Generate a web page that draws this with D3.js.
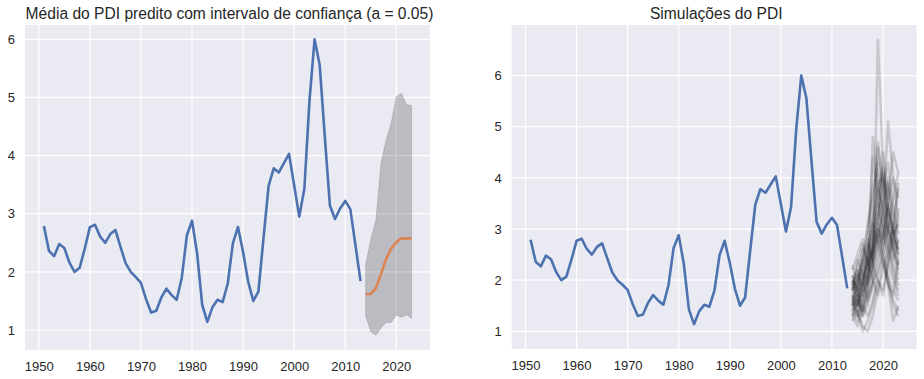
<!DOCTYPE html>
<html><head><meta charset="utf-8">
<script src="https://cdn.jsdelivr.net/npm/d3@7"></script>
<style>
body{margin:0;background:#fff;}
text{font-family:"Liberation Sans",Arial,sans-serif;fill:#262626;}
</style></head>
<body><svg id="c" width="924" height="379"></svg>
<script>
const startYear = 1951;
const pdi = [2.79,2.36,2.27,2.48,2.41,2.16,2.00,2.07,2.40,2.77,2.81,2.61,2.50,2.65,2.72,2.43,2.15,2.00,1.91,1.81,
  1.53,1.30,1.33,1.56,1.71,1.60,1.52,1.90,2.63,2.88,2.32,1.43,1.14,1.39,1.52,1.48,1.80,2.49,2.77,2.34,
  1.83,1.50,1.66,2.58,3.48,3.78,3.71,3.87,4.03,3.49,2.95,3.43,4.94,6.00,5.56,4.33,3.14,2.91,3.09,3.22,
  3.08,2.46,1.84];
const forecastYears = [2014,2015,2016,2017,2018,2019,2020,2021,2022,2023];
const forecastMean = [1.62,1.62,1.72,1.96,2.22,2.40,2.51,2.58,2.57,2.58];
const forecastUpper = [2.12,2.56,2.89,3.87,4.27,4.56,5.01,5.07,4.88,4.86];
const forecastLower = [1.24,0.97,0.91,1.03,1.13,1.13,1.26,1.22,1.26,1.20];
const simulations = [
 [1.6,1.4,1.9,2.3,2.6,3.1,2.8,3.4,2.9,2.4],
 [1.9,2.2,1.8,2.5,3.3,4.6,3.9,3.2,2.6,2.2],
 [1.4,1.2,1.5,1.9,2.2,2.7,3.5,4.0,3.1,3.8],
 [2.1,1.7,2.4,2.8,2.4,3.0,2.5,2.1,1.8,1.6],
 [1.5,1.8,1.3,1.6,2.1,6.7,4.3,3.0,2.7,2.3],
 [1.7,1.5,2.0,2.6,4.4,3.6,2.9,2.3,2.0,1.7],
 [1.3,1.6,2.2,1.9,2.3,2.8,3.3,5.1,4.0,3.2],
 [2.3,1.9,1.6,2.1,2.7,3.4,4.1,3.6,4.5,4.1],
 [1.8,2.3,2.7,2.4,2.0,1.7,2.2,2.6,3.1,2.5],
 [1.2,1.4,1.1,1.0,1.3,1.8,2.4,2.0,1.5,1.3],
 [1.6,2.0,2.5,3.0,3.6,4.1,3.3,2.8,2.4,2.8],
 [2.0,1.6,1.4,1.8,4.8,3.9,3.1,2.6,2.3,2.0],
 [1.5,1.3,1.7,2.0,2.5,3.0,4.5,3.7,2.9,2.5],
 [1.9,2.4,2.1,1.6,1.9,2.4,2.9,3.5,4.0,3.6],
 [1.4,1.7,2.0,2.4,3.0,3.8,3.4,2.7,2.2,1.9],
 [2.2,2.5,2.8,2.3,2.7,3.3,2.6,2.0,1.6,1.4],
 [1.7,1.4,1.0,1.2,1.5,2.0,1.7,2.3,2.8,3.4],
 [1.3,1.1,1.4,1.7,2.0,2.6,3.0,3.9,3.3,2.7],
 [1.8,2.1,1.7,2.2,2.9,3.7,4.2,3.4,2.9,3.1],
 [1.6,1.9,2.3,2.7,2.3,2.0,1.8,2.4,3.0,3.9],
 [2.0,1.8,2.2,3.1,3.8,4.3,3.6,2.9,2.5,2.1],
 [1.4,1.6,1.3,1.5,1.9,2.2,2.7,3.1,2.6,2.3],
 [1.9,1.5,1.8,2.1,2.4,4.7,3.8,3.0,2.6,3.2],
 [1.5,1.9,2.6,2.2,2.6,3.2,3.8,4.3,3.5,2.9],
 [1.7,2.2,1.9,2.4,3.1,2.7,2.3,1.9,1.7,2.4],
 [1.3,1.5,1.9,2.6,3.2,3.9,4.0,3.4,2.8,2.6],
 [2.1,1.8,1.5,1.3,1.6,2.1,2.5,3.0,3.6,4.1],
 [1.6,1.3,1.6,2.0,2.8,3.5,3.0,2.5,2.1,1.8],
 [1.8,2.0,2.4,2.0,2.5,2.9,2.4,1.9,1.2,1.5],
 [1.5,1.7,1.4,1.8,2.3,3.0,2.7,3.5,3.0,2.6]
];
const xTicks = [1950,1960,1970,1980,1990,2000,2010,2020];
const titles = ["Média do PDI predito com intervalo de confiança (a = 0.05)", "Simulações do PDI"];

const years = pdi.map((d,i)=>startYear+i);
const hist = pdi.map((v,i)=>({x:years[i], y:v}));
const svg = d3.select("#c");

function panel(x0,x1,y0,y1,yDom,yTicks,title){
  const g = svg.append("g");
  const x = d3.scaleLinear().domain([1947.3,2026.6]).range([x0,x1]);
  const y = d3.scaleLinear().domain(yDom).range([y1,y0]);
  g.append("rect").attr("x",x0).attr("y",y0).attr("width",x1-x0).attr("height",y1-y0).attr("fill","#eaeaf2");
  const ga = g.append("g");
  ga.selectAll("line.v").data(xTicks).join("line").attr("x1",d=>x(d)).attr("x2",d=>x(d)).attr("y1",y0).attr("y2",y1)
    .attr("stroke","#fff").attr("stroke-width",1.2);
  ga.selectAll("line.h").data(yTicks).join("line").attr("y1",d=>y(d)).attr("y2",d=>y(d)).attr("x1",x0).attr("x2",x1)
    .attr("stroke","#fff").attr("stroke-width",1.2);
  const xa = g.append("g").attr("transform",`translate(0,${y1})`).call(d3.axisBottom(x).tickValues(xTicks).tickFormat(d3.format("d")).tickSize(0).tickPadding(12));
  const ya = g.append("g").attr("transform",`translate(${x0},0)`).call(d3.axisLeft(y).tickValues(yTicks).tickFormat(d3.format("d")).tickSize(0).tickPadding(10));
  [xa,ya].forEach(a=>{a.select(".domain").remove(); a.selectAll("text").style("font-size","13px").attr("fill","#262626").style("font-family","'Liberation Sans',Arial,sans-serif");});
  g.append("text").attr("x",(x0+x1)/2+2).attr("y",19).attr("text-anchor","middle").style("font-size","15.6px").text(title);
  return {g,x,y};
}

// left
const L = panel(25,430,25,350,[0.656,6.246],[1,2,3,4,5,6],titles[0]);
const band = forecastYears.map((yr,i)=>({x:yr, lo:forecastLower[i], hi:forecastUpper[i]}));
L.g.append("path").datum(band)
  .attr("d", d3.area().x(d=>L.x(d.x)).y0(d=>L.y(d.lo)).y1(d=>L.y(d.hi)))
  .attr("fill","rgba(0,0,0,0.2)").attr("stroke","rgba(0,0,0,0.12)").attr("stroke-width",1);
L.g.append("path").datum(hist).attr("d", d3.line().x(d=>L.x(d.x)).y(d=>L.y(d.y)))
  .attr("fill","none").attr("stroke","#4c72b0").attr("stroke-width",2.6).attr("stroke-linejoin","round");
L.g.append("path").datum(forecastYears.map((yr,i)=>({x:yr,y:forecastMean[i]})))
  .attr("d", d3.line().x(d=>L.x(d.x)).y(d=>L.y(d.y)))
  .attr("fill","none").attr("stroke","#dd8452").attr("stroke-width",2.6).attr("stroke-linejoin","round");

// right
const R = panel(511.7,916.7,25,349,[0.654,6.99],[1,2,3,4,5,6],titles[1]);
R.g.append("path").datum(hist).attr("d", d3.line().x(d=>R.x(d.x)).y(d=>R.y(d.y)))
  .attr("fill","none").attr("stroke","#4c72b0").attr("stroke-width",2.6).attr("stroke-linejoin","round");
R.g.selectAll("path.sim").data(simulations).join("path").attr("class","sim")
  .attr("d", s=>d3.line().x((d,i)=>R.x(forecastYears[i])).y(d=>R.y(d))(s))
  .attr("fill","none").attr("stroke","#000").attr("stroke-opacity",0.15).attr("stroke-width",2.6).attr("stroke-linejoin","round");
</script></body></html>
